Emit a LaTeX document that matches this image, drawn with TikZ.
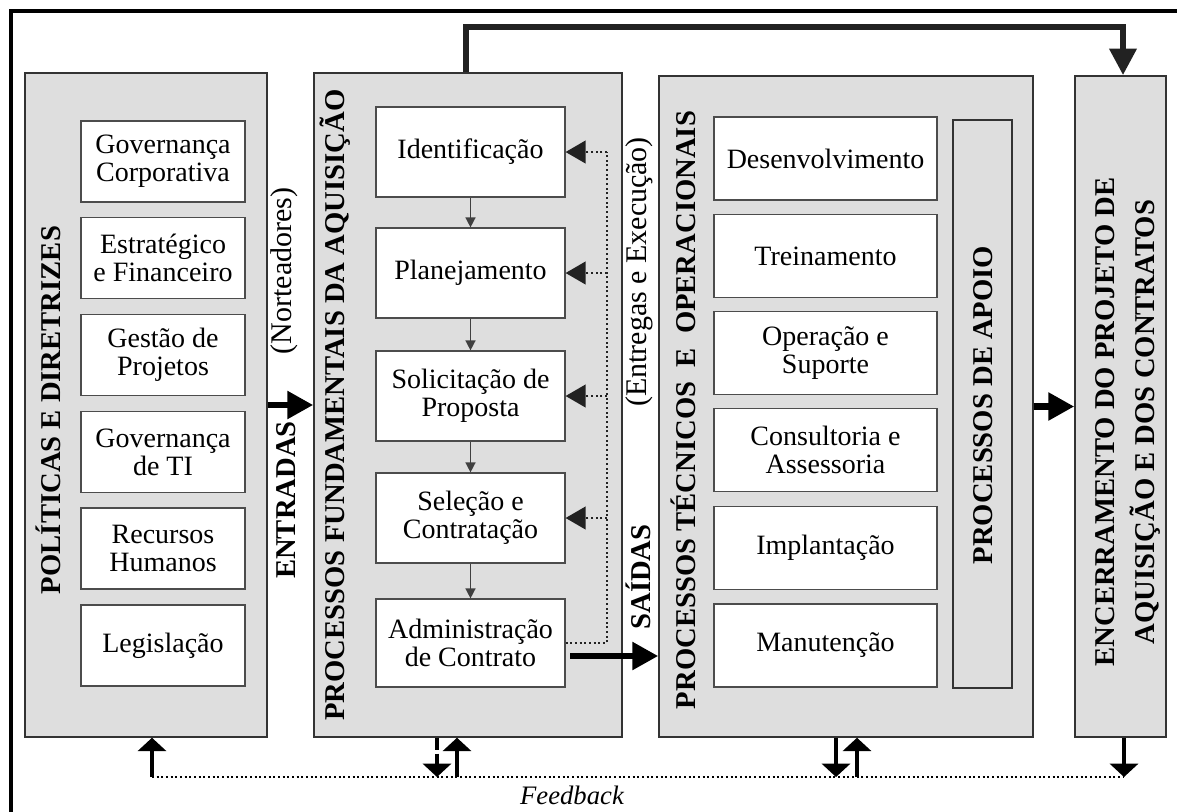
\documentclass[tikz,border=0pt]{standalone}
\usepackage{fontspec}
\setmainfont{Liberation Serif}
\usetikzlibrary{arrows.meta}
\definecolor{panelgray}{HTML}{DEDEDE}
\definecolor{dk}{HTML}{222222}
\tikzset{
  wh/.style 2 args={minimum width=#1*0.75pt, minimum height=#2*0.75pt},
  panel/.style={draw=black!80, line width=1.1pt, fill=panelgray, inner sep=0pt},
  box/.style={draw=black!70, line width=0.9pt, fill=white, align=center, inner sep=0pt, font=\fontsize{21}{21}\selectfont},
  title/.style={rotate=90, font=\bfseries\fontsize{21.5}{22.5}\selectfont, align=center, inner sep=0pt},
  lbl/.style={rotate=90, font=\fontsize{22.5}{24}\selectfont, inner sep=0pt},
  bigarrow/.style={line width=5.2pt, -{Triangle[length=19.5pt,width=20pt]}},
  toparrow/.style={draw=dk, line width=5.2pt, -{Triangle[length=20pt,width=19.5pt,fill=dk]}},
  smallarrow/.style={draw=black!75, line width=1.1pt, -{Triangle[length=7.5pt,width=7.5pt]}},
  fbdots/.style={line width=1.5pt, dash pattern=on 1.5pt off 2pt},
  fbarrow/.style={fbdots, draw=dk, -{Triangle[length=15pt,width=17pt,fill=dk]}},
  botarrow/.style={line width=3pt, -{Triangle[length=10pt,width=21pt]}}
}
\begin{document}
\begin{tikzpicture}[x=0.75pt,y=-0.75pt]
\clip (0,0) rectangle (1177,811);
\useasboundingbox (0,0) rectangle (1177,811);
\fill[white] (0,0) rectangle (1177,811);
% outer frame
\draw[line width=3pt] (11,11) rectangle (1220,860);

% panels
\node[panel, wh={242}{664}] (p1) at (146,405) {};
\node[panel, wh={308}{664}] (p2) at (468,405) {};
\node[panel, wh={374}{661}] (p3) at (846,406.5) {};
\node[panel, wh={91}{661}] (p4) at (1120.5,406.5) {};

% panel 1
\node[title] (t1) at (48,410) {POLÍTICAS E DIRETRIZES};
\node[box, wh={164}{81}] (b11) at (163,161.5) {Governança\\Corporativa};
\node[box, wh={164}{81}] (b12) at (163,258) {Estratégico\\e Financeiro};
\node[box, wh={164}{81}] (b13) at (163,355) {Gestão de\\Projetos};
\node[box, wh={164}{81}] (b14) at (163,452) {Governança\\de TI};
\node[box, wh={164}{81}] (b15) at (163,548.5) {Recursos\\Humanos};
\node[box, wh={164}{81}] (b16) at (163,645.5) {Legislação};

% between p1 and p2
\node[lbl] (nort) at (284,271) {(Norteadores)};
\node[lbl, font=\bfseries\fontsize{21.5}{22.5}\selectfont] (entr) at (286,500) {ENTRADAS};
\draw[bigarrow] (p1.east) -- (p2.west);

% panel 2
\node[title] (t2) at (335,405) {PROCESSOS FUNDAMENTAIS DA AQUISIÇÃO};
\node[box, wh={189}{90}] (ident) at (470.5,152) {Identificação};
\node[box, wh={189}{90}] (plan) at (470.5,273) {Planejamento};
\node[box, wh={189}{90}] (solic) at (470.5,396) {Solicitação de\\Proposta};
\node[box, wh={189}{90}] (sel) at (470.5,518) {Seleção e\\Contratação};
\node[box, wh={189}{88}] (adm) at (470.5,643) {Administração\\de Contrato};
\draw[smallarrow] (ident) -- (plan);
\draw[smallarrow] (plan) -- (solic);
\draw[smallarrow] (solic) -- (sel);
\draw[smallarrow] (sel) -- (adm);

% dotted feedback inside p2
\coordinate (fx) at (607,0);
\draw[fbdots, draw=dk] (adm.east) -| (fx |- ident.east);
\draw[fbarrow] (fx |- ident.east) -- (ident.east);
\draw[fbarrow] (fx |- plan.east) -- (plan.east);
\draw[fbarrow] (fx |- solic.east) -- (solic.east);
\draw[fbarrow] (fx |- sel.east) -- (sel.east);

% between p2 and p3
\node[lbl] (entreg) at (639,272) {(Entregas e Execução)};
\node[lbl, font=\bfseries\fontsize{21.5}{22.5}\selectfont] (saidas) at (638,577) {SAÍDAS};
\coordinate (aout) at (570,656);
\draw[bigarrow] (aout) -- (aout -| p3.west);

% panel 3
\node[title] (t3) at (683,410) {PROCESSOS TÉCNICOS \ E \ OPERACIONAIS};
\node[box, wh={223}{83}] (b31) at (825.5,158.5) {Desenvolvimento};
\node[box, wh={223}{83}] (b32) at (825.5,256) {Treinamento};
\node[box, wh={223}{83}] (b33) at (825.5,353) {Operação e\\Suporte};
\node[box, wh={223}{83}] (b34) at (825.5,450) {Consultoria e\\Assessoria};
\node[box, wh={223}{83}] (b35) at (825.5,548) {Implantação};
\node[box, wh={223}{83}] (b36) at (825.5,645.5) {Manutenção};
\node[panel, wh={59}{568}] (apoio) at (982.5,404) {};
\node[title] (t3b) at (983,405) {PROCESSOS DE APOIO};

\draw[bigarrow] (p3.east) -- (p4.west);

% panel 4
\node[title, font=\bfseries\fontsize{21.5}{30}\selectfont] (t4) at (1128,422) {ENCERRAMENTO DO PROJETO DE\\AQUISIÇÃO E DOS CONTRATOS};

% top arrow
\coordinate (ta) at (466,27);
\coordinate (tb) at (1123,27);
\draw[toparrow] (p2.north -| ta) -- (ta) -- (tb) -- (tb |- p4.north);

% bottom feedback
\coordinate (fl) at (152,777);
\coordinate (fr) at (1124,777);
\draw[fbdots] (fl) -- (fr);
\draw[botarrow] (fl) -- (fl |- p1.south);
\coordinate (d2) at (437,777);
\coordinate (u2) at (457,777);
\draw[botarrow, line width=2.5pt, dash pattern=on 9pt off 3pt] (d2 |- p2.south) -- (d2);
\draw[botarrow] (u2) -- (u2 |- p2.south);
\coordinate (d3) at (836,777);
\coordinate (u3) at (857,777);
\draw[botarrow] (d3 |- p3.south) -- (d3);
\draw[botarrow] (u3) -- (u3 |- p3.south);
\draw[botarrow] (fr |- p4.south) -- (fr);
\node[font=\itshape\fontsize{20}{21}\selectfont, inner sep=0pt] (fbk) at (572,795) {Feedback};
\end{tikzpicture}
\end{document}
